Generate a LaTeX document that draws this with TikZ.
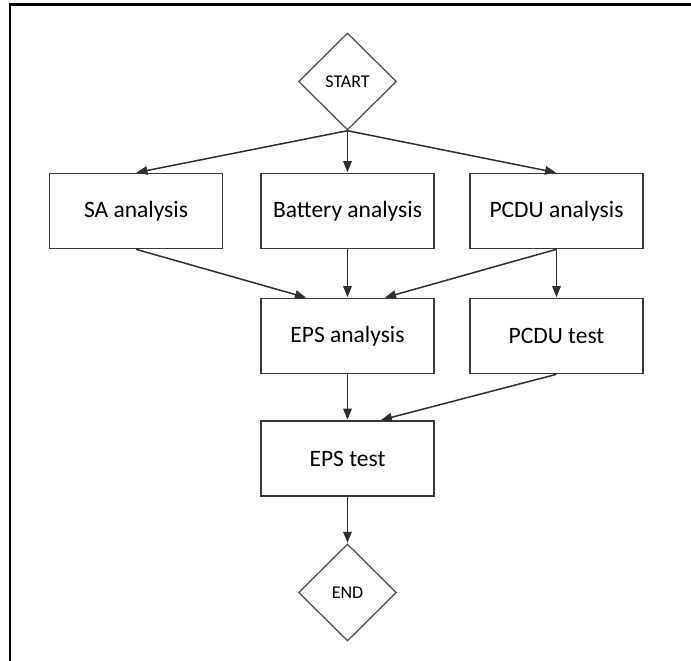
\documentclass[tikz,border=0pt]{standalone}
\usepackage{fontspec}
\setmainfont{Carlito}
\usetikzlibrary{shapes.geometric,arrows.meta}
\tikzset{
  box/.style={draw=black!78, line width=1.6pt, rectangle, minimum width=173pt, minimum height=75pt, inner sep=0pt, font=\fontsize{23.5}{28}\selectfont, text=black},
  term/.style={draw=black!65, line width=1.4pt, diamond, minimum width=98pt, minimum height=97pt, inner sep=0pt, font=\fontsize{18}{21}\selectfont, text=black},
  arr/.style={draw=black!82, line width=1.5pt, -{Triangle[length=11pt,width=8.5pt]}, shorten >=0.5pt},
  frame/.style={draw=black, line width=2.6pt}
}
\begin{document}
\begin{tikzpicture}[x=1pt,y=-1pt]
\useasboundingbox (0,0) rectangle (691,661);
\draw[frame] (10,663) -- (10,4.5) -- (693,4.5);
\node[term] (start) at (347.5,81.5) {START};
\node[box] (sa) at (136,211) {SA analysis};
\node[box] (bat) at (347.5,211) {Battery analysis};
\node[box] (pcdua) at (556.5,211) {PCDU analysis};
\node[box] (epsa) at (347.5,336) {EPS analysis};
\node[box] (pcdut) at (556.5,336) {PCDU test};
\node[box] (epst) at (347.5,458.5) {EPS test};
\node[term] (end) at (347.5,592.5) {END};
\coordinate (epsaL) at ([xshift=-41pt]epsa.north);
\coordinate (epsaR) at ([xshift=37pt]epsa.north);
\coordinate (epstR) at ([xshift=33pt]epst.north);
\draw[arr] (start.south) -- (sa.north);
\draw[arr] (start.south) -- (bat.north);
\draw[arr] (start.south) -- (pcdua.north);
\draw[arr] (sa.south) -- (epsaL);
\draw[arr] (bat.south) -- (epsa.north);
\draw[arr] (pcdua.south) -- (epsaR);
\draw[arr] (pcdua.south) -- (pcdut.north);
\draw[arr] (epsa.south) -- (epst.north);
\draw[arr] (pcdut.south) -- (epstR);
\draw[arr] (epst.south) -- (end.north);
\end{tikzpicture}
\end{document}
